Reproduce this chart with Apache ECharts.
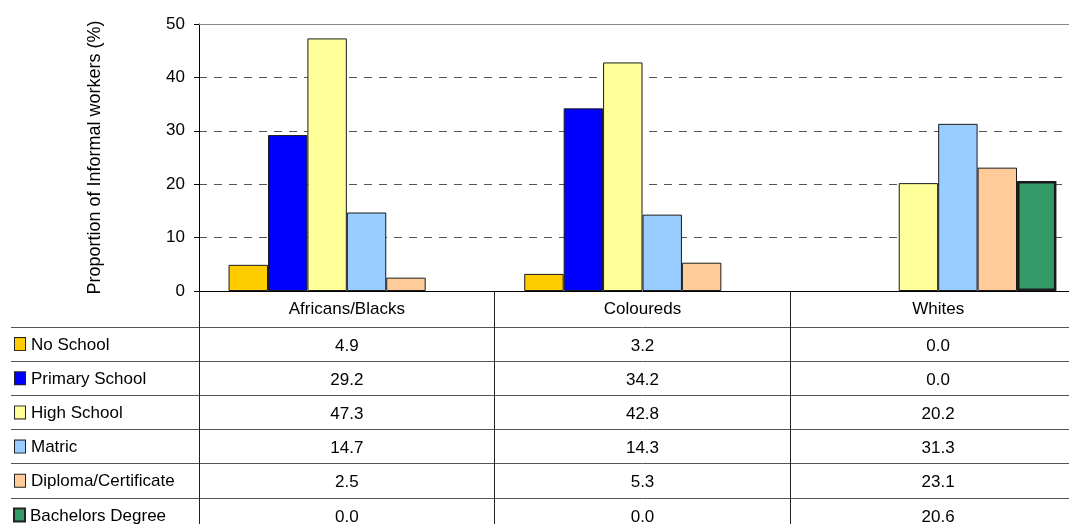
<!DOCTYPE html>
<html>
<head>
<meta charset="utf-8">
<script src="https://cdn.jsdelivr.net/npm/echarts@6/dist/echarts.min.js"></script>
<style>
  html, body { margin: 0; padding: 0; background: #fff; overflow: hidden; width: 1069px; height: 524px; }
  #chart { width: 1100px; height: 540px; }
</style>
</head>
<body>
<div id="chart"></div>
<script>
// Population groups along the category axis
const categories = ['Africans/Blacks', 'Coloureds', 'Whites'];

// Highest level of education, one series per level (%)
const seriesNames = ['No School', 'Primary School', 'High School', 'Matric', 'Diploma/Certificate', 'Bachelors Degree'];
const noSchool      = [4.9, 3.2, 0.0];
const primarySchool = [29.2, 34.2, 0.0];
const highSchool    = [47.3, 42.8, 20.2];
const matric        = [14.7, 14.3, 31.3];
const diploma       = [2.5, 5.3, 23.1];
const bachelors     = [0.0, 0.0, 20.6];
const seriesValues = [noSchool, primarySchool, highSchool, matric, diploma, bachelors];

// Value axis ticks
const yMin = 0, yMax = 50, yStep = 10;

const colors = ['#FFCC00', '#0000FF', '#FFFF99', '#99CCFF', '#FFCC99', '#339966'];
const borderWidths = [1, 1, 1, 1, 1, 2.5];
const FONT = "'Liberation Sans', Arial, sans-serif";

const chart = echarts.init(document.getElementById('chart'), null, { renderer: 'canvas' });

// Plot and table share the same column layout (the last column runs past the page edge)
const plotLeft = 199, plotWidth = 887;

const rich = { t: { fontSize: 17, fontFamily: FONT, color: '#000', padding: [2, 0, 0, 6] } };
seriesNames.forEach((n, i) => {
  rich['sq' + i] = {
    width: i === 5 ? 9 : 10, height: i === 5 ? 9 : 10,
    backgroundColor: colors[i], borderColor: '#222', borderWidth: borderWidths[i] > 1 ? 2 : 1,
    padding: [2, 0, 0, 0]
  };
});

// Table cells: [column, row, value]
const tableData = [];
seriesValues.forEach((vals, r) => vals.forEach((v, c) => tableData.push([c, r, v])));

const barSeries = seriesNames.map((name, i) => ({
  name,
  type: 'bar',
  xAxisIndex: 0,
  yAxisIndex: 0,
  // zero-height bars get no outline
  data: seriesValues[i].map(v => (v === 0 ? { value: v, itemStyle: { borderWidth: 0 } } : v)),
  barGap: '0%',
  barCategoryGap: '20%',
  itemStyle: { color: colors[i], borderColor: '#1a1a1a', borderWidth: borderWidths[i] },
  emphasis: { disabled: true },
  animation: false
}));

const option = {
  animation: false,
  textStyle: { fontFamily: FONT },
  grid: [
    { left: plotLeft, top: 24, width: plotWidth, height: 267 },
    { left: plotLeft, top: 327, width: plotWidth, height: 205 }
  ],
  xAxis: [
    {
      gridIndex: 0, type: 'category', data: categories, position: 'bottom',
      axisLine: { show: true, lineStyle: { color: '#000', width: 1 } },
      axisTick: { show: true, inside: false, length: 36, interval: 0, lineStyle: { color: '#222' } },
      axisLabel: { show: false },
      splitLine: { show: false }
    },
    {
      gridIndex: 0, type: 'category', data: categories, position: 'top',
      axisLine: { show: true, lineStyle: { color: '#888', width: 1 } },
      axisTick: { show: false }, axisLabel: { show: false }, splitLine: { show: false }
    },
    {
      gridIndex: 1, type: 'category', data: categories, position: 'top',
      axisLine: { show: false },
      axisTick: { show: false },
      axisLabel: { show: true, margin: 18, verticalAlign: 'middle', fontSize: 17, fontFamily: FONT, color: '#000' },
      splitLine: { show: true, interval: 0, lineStyle: { color: '#222', width: 1 } }
    }
  ],
  yAxis: [
    {
      gridIndex: 0, type: 'value', min: yMin, max: yMax, interval: yStep,
      name: 'Proportion of Informal workers (%)',
      nameLocation: 'middle', nameGap: 95, nameRotate: 90,
      nameTextStyle: { fontSize: 18, fontFamily: FONT, color: '#000' },
      axisLine: { show: true, lineStyle: { color: '#000', width: 1 } },
      axisTick: { show: true, length: 5, lineStyle: { color: '#000' } },
      axisLabel: { fontSize: 17, fontFamily: FONT, color: '#000', margin: 14 },
      splitLine: { show: true, lineStyle: { color: '#555', type: [8, 7], width: 1 } }
    },
    {
      gridIndex: 1, type: 'category', data: seriesNames, inverse: true,
      axisLine: { show: true, lineStyle: { color: '#222', width: 1 } },
      axisTick: { show: true, length: 188, interval: 0, lineStyle: { color: '#555' } },
      axisLabel: {
        show: true, align: 'left', margin: 184, interval: 0,
        formatter: (val, idx) => `{sq${idx}|}{t|${val}}`,
        rich
      },
      splitLine: { show: true, interval: 0, lineStyle: { color: '#555', width: 1 } }
    },
    {
      gridIndex: 1, type: 'category', data: seriesNames, inverse: true, offset: 188,
      axisLine: { show: true, lineStyle: { color: '#555', width: 1 } },
      axisTick: { show: false }, axisLabel: { show: false }, splitLine: { show: false }
    }
  ],
  series: barSeries.concat([
    {
      name: 'table',
      type: 'custom',
      xAxisIndex: 2,
      yAxisIndex: 1,
      data: tableData,
      silent: true,
      renderItem: (params, api) => {
        const p = api.coord([api.value(0), api.value(1)]);
        return {
          type: 'text',
          x: p[0], y: p[1] + 2,
          style: {
            text: Number(api.value(2)).toFixed(1),
            align: 'center', verticalAlign: 'middle',
            fontSize: 17, fontFamily: FONT, fill: '#000'
          }
        };
      }
    }
  ])
};

chart.setOption(option);
</script>
</body>
</html>
